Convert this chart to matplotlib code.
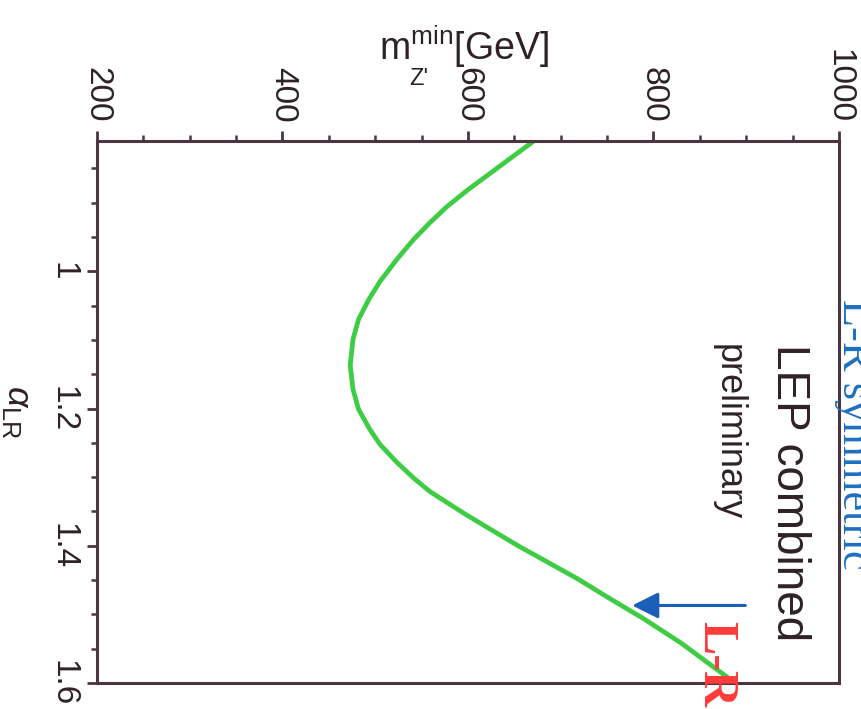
import matplotlib
matplotlib.use("Agg")
import matplotlib.pyplot as plt
from matplotlib.ticker import MultipleLocator

plt.rcParams['font.family'] = ['Liberation Sans', 'DejaVu Sans']
plt.rcParams['mathtext.fontset'] = 'custom'
plt.rcParams['mathtext.rm'] = 'Liberation Sans'
plt.rcParams['mathtext.it'] = 'Liberation Sans:italic'
plt.rcParams['mathtext.bf'] = 'Liberation Sans:bold'

# ---- data ----
alpha_lr = [0.810, 0.833, 0.857, 0.881, 0.906, 0.929, 0.954, 0.983, 1.015,
            1.041, 1.070, 1.099, 1.137, 1.172, 1.201, 1.230, 1.252, 1.278,
            1.302, 1.321, 1.353, 1.375, 1.400, 1.430, 1.448, 1.477, 1.506,
            1.542, 1.600]
m_zprime_min = [671, 648, 624, 600, 577, 559, 541, 523, 505,
                493, 482, 476, 473, 476, 482, 494, 505, 523,
                542, 559, 596, 623, 654, 694, 718, 753, 789,
                830, 888]

m_ticks = [200, 400, 600, 800, 1000]
alpha_ticks = [1.0, 1.2, 1.4, 1.6]
alpha_ticklabels = ['1', '1.2', '1.4', '1.6']

arrow_alpha = 1.487
arrow_m_from = 899
arrow_m_to = 777

TXT = '#2e2226'
SPINE = '#4a3540'

fig = plt.figure(figsize=(8.62, 7.09), dpi=100)
fig.patch.set_facecolor('white')
W, H = 862, 709
ax = fig.add_axes([97 / W, 1 - 683 / H, (839 - 97) / W, (683 - 141) / H])

ax.plot(m_zprime_min, alpha_lr, color='#3fcc45', lw=3.4,
        solid_joinstyle='round', solid_capstyle='butt')

ax.set_xlim(200, 1000)
ax.set_ylim(1.6, 0.81)

for s in ax.spines.values():
    s.set_color(SPINE)
    s.set_linewidth(2.2)

ax.xaxis.tick_top()
ax.set_xticks(m_ticks)
ax.set_xticklabels([str(v) for v in m_ticks])
ax.xaxis.set_minor_locator(MultipleLocator(50))
ax.set_yticks(alpha_ticks)
ax.set_yticklabels(alpha_ticklabels)
ax.yaxis.set_minor_locator(MultipleLocator(0.05))

ax.tick_params(axis='both', which='both', direction='out', color=SPINE,
               labelcolor=TXT)
ax.tick_params(axis='both', which='major', length=7, width=2.0, labelsize=24, pad=6)
ax.tick_params(axis='both', which='minor', length=4, width=1.8)
ax.tick_params(axis='x', which='both', top=True, bottom=False,
               labeltop=True, labelbottom=False)
ax.tick_params(axis='y', which='both', left=True, right=False)

for lab in ax.get_xticklabels():
    lab.set_rotation(-90)
for lab in ax.get_yticklabels():
    lab.set_rotation(-90)
    lab.set_va('center')

# axis titles
fig.text(379 / W, 1 - 60 / H, r"m$^{\mathrm{min}}$[GeV]",
         fontsize=27, color=TXT, ha='left', va='baseline')
fig.text(409 / W, 1 - 85 / H, "Z'", fontsize=17, color=TXT,
         ha='left', va='baseline')
ax.set_ylabel(r"$\alpha_{\mathrm{LR}}$", fontsize=26, color=TXT, rotation=-90,
              labelpad=22, va='center')

# annotations (rotated like the rest of the figure)
ax.text(933, 1.106, 'LEP combined', rotation=-90, rotation_mode='anchor',
        ha='left', va='baseline', fontsize=33, color=TXT)
ax.text(870, 1.106, 'preliminary', rotation=-90, rotation_mode='anchor',
        ha='left', va='baseline', fontsize=26, color=TXT)
ax.text(1004, 1.041, 'L-R symmetric', rotation=-90, rotation_mode='anchor',
        ha='left', va='baseline', fontsize=32, color='#1f6fc0',
        family=['Liberation Serif'], clip_on=False)
ax.text(853, 1.510, 'L-R', rotation=-90, rotation_mode='anchor',
        ha='left', va='baseline', fontsize=36, color='#ff3b3b',
        family=['Liberation Serif'], fontweight='bold', clip_on=False)

ax.annotate('', xy=(arrow_m_to, arrow_alpha), xytext=(arrow_m_from, arrow_alpha),
            arrowprops=dict(arrowstyle='-|>,head_length=0.8,head_width=0.4',
                            color='#1a5fb8', lw=2.2, mutation_scale=20,
                            shrinkA=0, shrinkB=0))

fig.savefig('out.png', dpi=100, facecolor='white')
